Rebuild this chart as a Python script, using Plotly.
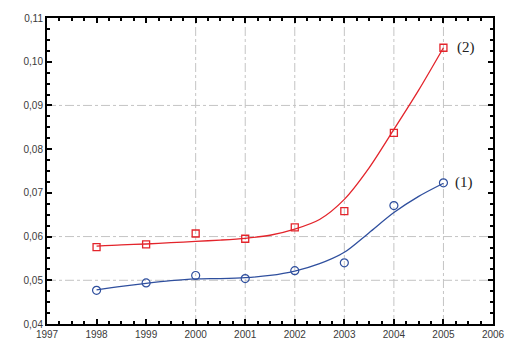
import plotly.graph_objects as go

# Observed values per year
years = [1998, 1999, 2000, 2001, 2002, 2003, 2004, 2005]
series_1 = [0.0477, 0.0494, 0.0511, 0.0504, 0.0522, 0.0540, 0.0671, 0.0723]
series_2 = [0.0576, 0.0582, 0.0607, 0.0595, 0.0621, 0.0658, 0.0837, 0.1032]

# Smoothed trend curves, sampled every half year
trend_x = [1998, 1998.5, 1999, 1999.5, 2000, 2000.5, 2001, 2001.5,
           2002, 2002.5, 2003, 2003.5, 2004, 2004.5, 2005]
trend_1 = [0.0478, 0.0486, 0.0493, 0.0499, 0.0503, 0.0504, 0.0506, 0.0511,
           0.0521, 0.0538, 0.0564, 0.0609, 0.0655, 0.0692, 0.0722]
trend_2 = [0.0578, 0.0581, 0.0583, 0.0586, 0.0589, 0.0592, 0.0596, 0.0603,
           0.0617, 0.0639, 0.0685, 0.0757, 0.0845, 0.0935, 0.1032]

x_ticks = [1997, 1998, 1999, 2000, 2001, 2002, 2003, 2004, 2005, 2006]
y_ticks = [0.04, 0.05, 0.06, 0.07, 0.08, 0.09, 0.10, 0.11]
grid_x = [2000, 2001, 2002, 2003, 2004, 2005]
grid_y = [0.05, 0.06, 0.09]
labels = ["(1)", "(2)"]

BLUE = "#2f4f9e"
RED = "#e3242b"
GRID = "#c4c4c4"

fig = go.Figure()

fig.add_trace(go.Scatter(x=trend_x, y=trend_2, mode="lines",
                         line=dict(color=RED, width=1.3, shape="spline", smoothing=0.8),
                         hoverinfo="skip", showlegend=False))
fig.add_trace(go.Scatter(x=trend_x, y=trend_1, mode="lines",
                         line=dict(color=BLUE, width=1.3, shape="spline", smoothing=0.8),
                         hoverinfo="skip", showlegend=False))
fig.add_trace(go.Scatter(x=years, y=series_2, mode="markers",
                         marker=dict(symbol="square-open", size=7, color=RED, line=dict(width=1.3)),
                         showlegend=False))
fig.add_trace(go.Scatter(x=years, y=series_1, mode="markers",
                         marker=dict(symbol="circle-open", size=8, color=BLUE, line=dict(width=1.2)),
                         showlegend=False))

# Dash-dot grid lines
for gx in grid_x:
    fig.add_shape(type="line", xref="x", yref="paper", x0=gx, x1=gx, y0=0, y1=1,
                  line=dict(color=GRID, width=1, dash="dashdot"), layer="below")
for gy in grid_y:
    fig.add_shape(type="line", xref="paper", yref="y", x0=0, x1=1, y0=gy, y1=gy,
                  line=dict(color=GRID, width=1, dash="dashdot"), layer="below")

# Curve labels at the right end
fig.add_annotation(x=years[-1], y=series_1[-1], text=labels[0], showarrow=False,
                   xanchor="left", xshift=10, font=dict(family="Liberation Serif", size=15, color="#222"))
fig.add_annotation(x=years[-1], y=series_2[-1], text=labels[1], showarrow=False,
                   xanchor="left", xshift=12, font=dict(family="Liberation Serif", size=15, color="#222"))

axis_common = dict(showline=True, linecolor="black", linewidth=2, mirror="allticks",
                   ticks="inside", ticklen=5, tickwidth=1.5, tickcolor="black",
                   showgrid=False, zeroline=False,
                   tickfont=dict(family="Liberation Sans", size=10, color="#3a3a3a"))

fig.update_xaxes(range=[1997, 2006], tickvals=x_ticks, ticktext=[str(v) for v in x_ticks],
                 minor=dict(ticks="inside", dtick=0.25, tick0=1997, ticklen=3, tickcolor="black", showgrid=False),
                 **axis_common)
fig.update_yaxes(range=[0.04, 0.11], tickvals=y_ticks, tickformat=".2f",
                 minor=dict(ticks="inside", dtick=0.0025, tick0=0.04, ticklen=3, tickcolor="black", showgrid=False),
                 **axis_common)

fig.update_layout(width=517, height=352, margin=dict(l=47, r=18, t=16, b=21),
                  paper_bgcolor="white", plot_bgcolor="white", separators=", ",
                  showlegend=False)

fig.write_html("out.html")
